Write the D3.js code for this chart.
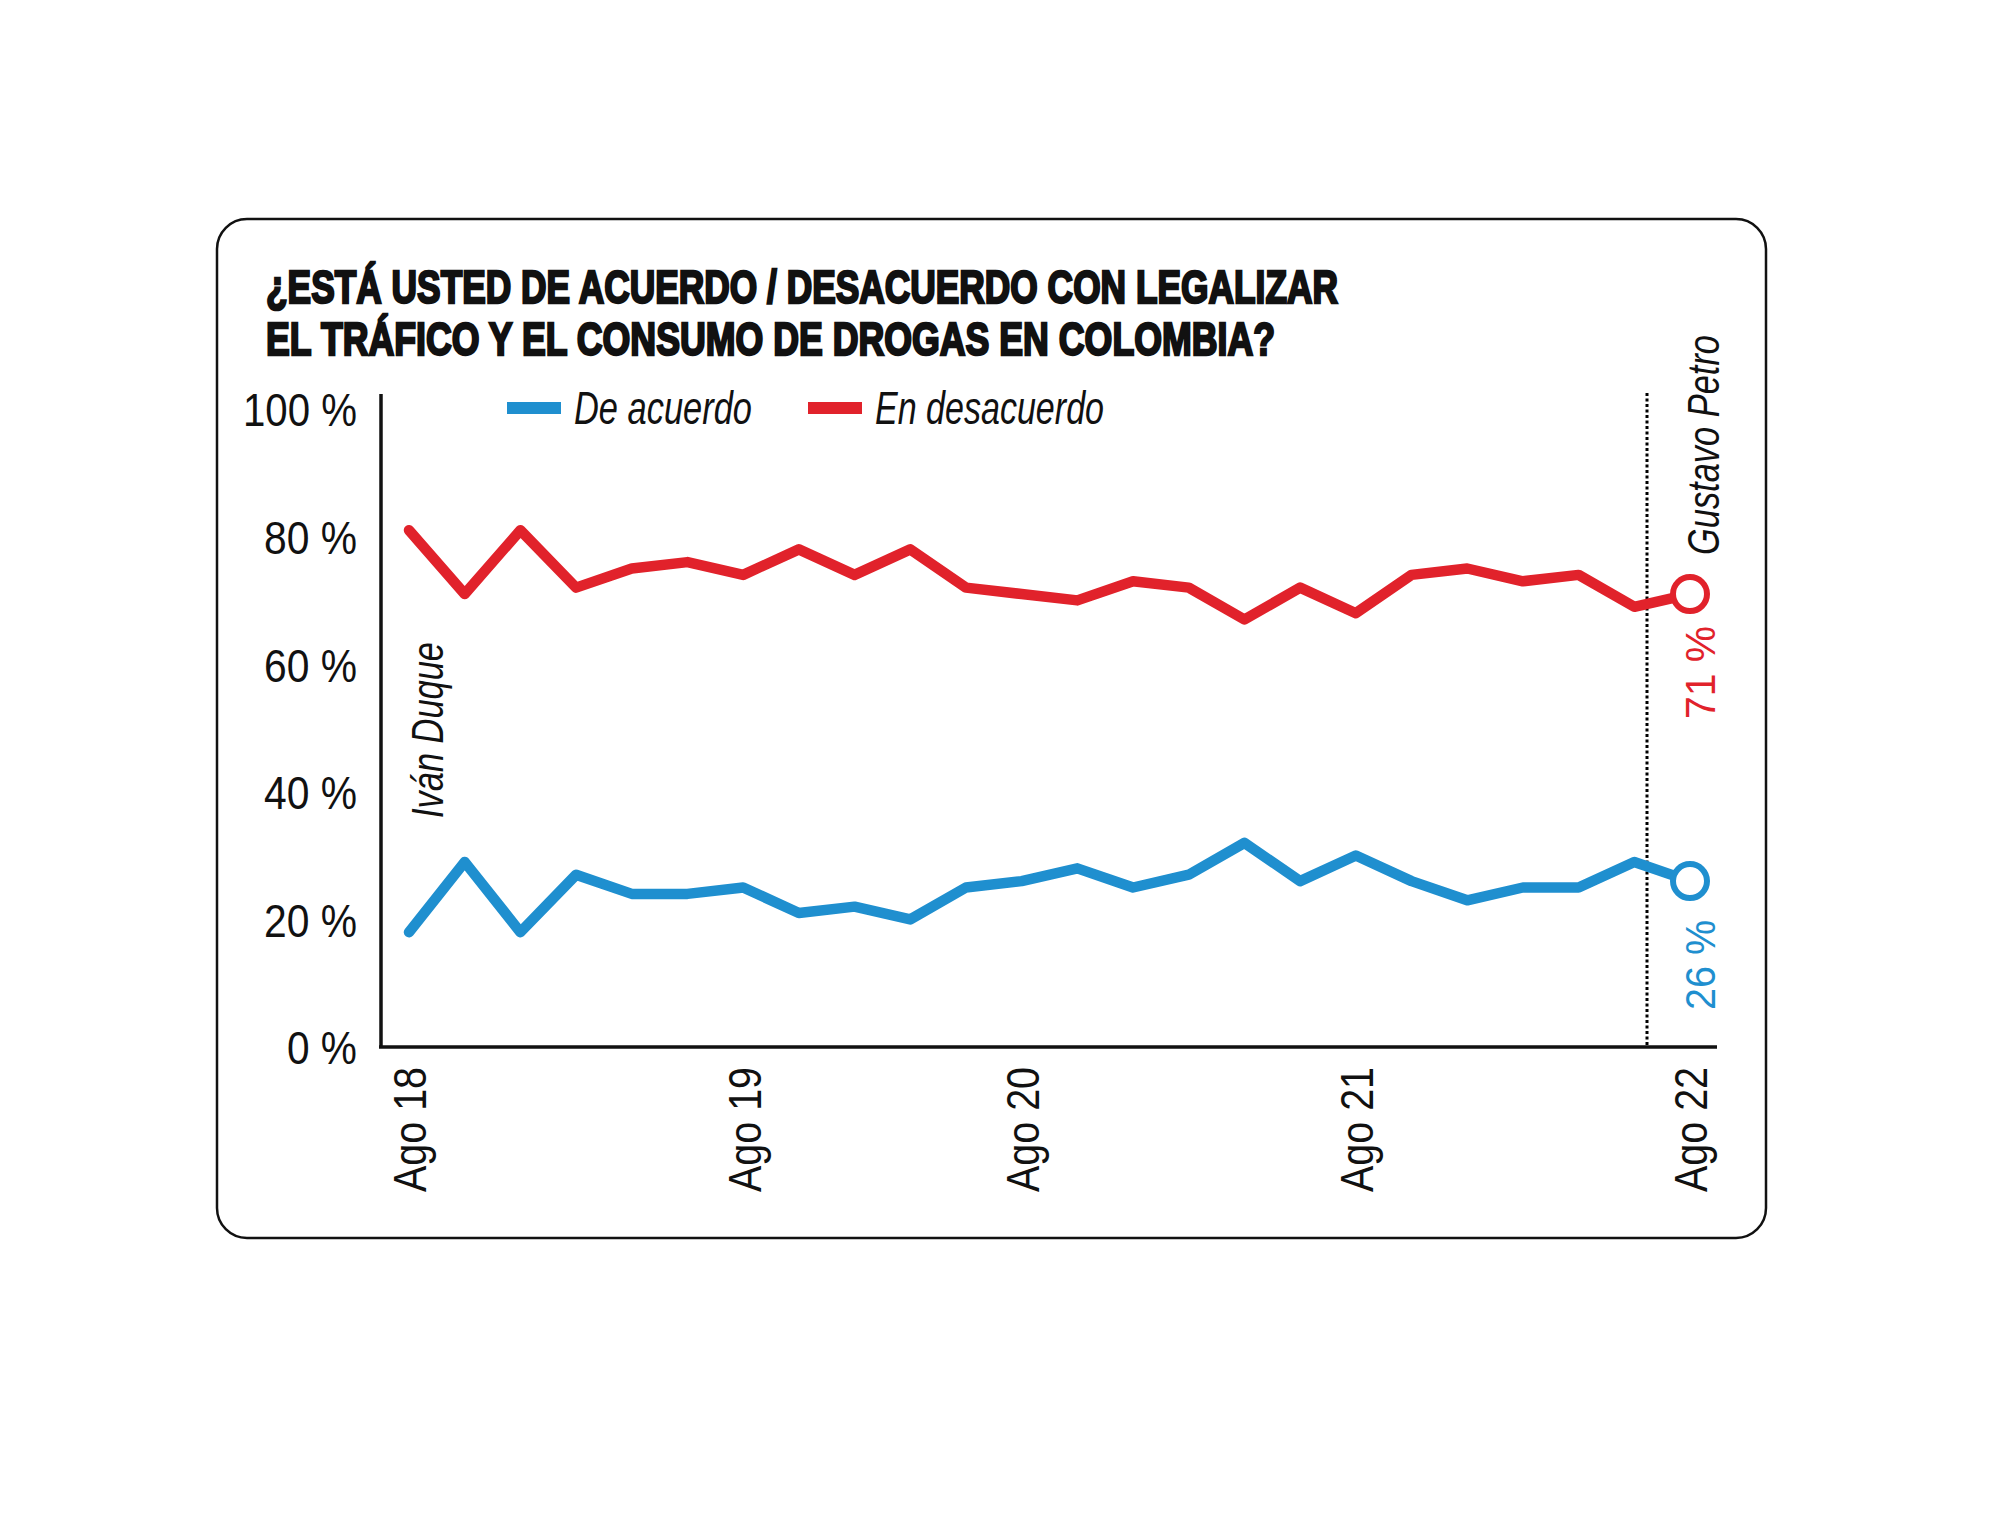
<!DOCTYPE html>
<html>
<head>
<meta charset="utf-8">
<script src="https://cdn.jsdelivr.net/npm/d3@7"></script>
<style>
  body { margin: 0; background: #fff; }
  svg { display: block; }
  text { font-family: "Liberation Sans", Arial, sans-serif; }
  .narrow { font-family: "Liberation Sans Narrow", "Liberation Sans", Arial, sans-serif; }
</style>
</head>
<body>
<svg id="canvas" width="2000" height="1515"></svg>
<script>
// survey index 0..23 (bimonthly polls, Ago 18 -> Ago 22)
var tickIndex  = [0, 6, 11, 17, 23];
var tickLabels = ["Ago 18", "Ago 19", "Ago 20", "Ago 21", "Ago 22"];
var yTicks = [0, 20, 40, 60, 80, 100];

// % de acuerdo
var deAcuerdo = [18, 29, 18, 27, 24, 24, 25, 21, 22, 20, 25, 26,
                 28, 25, 27, 32, 26, 30, 26, 23, 25, 25, 29, 26];
// % en desacuerdo
var enDesacuerdo = [81, 71, 81, 72, 75, 76, 74, 78, 74, 78, 72, 71,
                    70, 73, 72, 67, 72, 68, 74, 75, 73, 74, 69, 71];

var titleLines = ["¿ESTÁ USTED DE ACUERDO / DESACUERDO CON LEGALIZAR",
                  "EL TRÁFICO Y EL CONSUMO DE DROGAS EN COLOMBIA?"];

var blue = "#1f8fcf",
    red  = "#e1222b";

var svg = d3.select("#canvas");

// rounded frame
svg.append("rect")
    .attr("x", 217).attr("y", 219)
    .attr("width", 1549).attr("height", 1019)
    .attr("rx", 30).attr("ry", 30)
    .attr("fill", "#fff")
    .attr("stroke", "#111")
    .attr("stroke-width", 2.5);

// title
var title = svg.append("g").attr("class", "narrow")
    .attr("font-weight", "bold").attr("font-size", 46).attr("fill", "#111")
    .attr("stroke", "#111").attr("stroke-width", 2.4);
title.selectAll("text").data(titleLines).enter().append("text")
    .attr("x", 266)
    .attr("y", function(d, i) { return 303 + i * 52; })
    .attr("textLength", function(d, i) { return i === 0 ? 1072 : 1009; })
    .attr("lengthAdjust", "spacingAndGlyphs")
    .text(function(d) { return d; });

var x = d3.scaleLinear().domain([0, 23]).range([409, 1690]);
var y = d3.scaleLinear().domain([0, 100]).range([1047, 409]);

// y axis labels
var yAxis = d3.axisLeft(y)
    .tickValues(yTicks)
    .tickSize(0)
    .tickPadding(0)
    .tickFormat(function(d) { return d + " %"; });

var gy = svg.append("g")
    .attr("transform", "translate(357,0)")
    .call(yAxis);
gy.select(".domain").remove();
gy.selectAll("text")
    .attr("font-family", "'Liberation Sans Narrow', 'Liberation Sans', Arial, sans-serif")
    .attr("font-size", 47)
    .attr("fill", "#111")
    .attr("dy", "0.36em")
    .attr("textLength", function(d) { return d === 100 ? 114 : (d === 0 ? 70 : 93); })
    .attr("lengthAdjust", "spacingAndGlyphs");

// axis lines
svg.append("line")
    .attr("x1", 381).attr("x2", 381)
    .attr("y1", 394).attr("y2", y(0))
    .attr("stroke", "#111").attr("stroke-width", 3.5);
svg.append("line")
    .attr("x1", 379).attr("x2", 1717)
    .attr("y1", y(0)).attr("y2", y(0))
    .attr("stroke", "#111").attr("stroke-width", 3.5);

// x axis labels (rotated)
var xAxis = d3.axisBottom(x)
    .tickValues(tickIndex)
    .tickSize(0)
    .tickFormat(function(d, i) { return tickLabels[i]; });
var gx = svg.append("g")
    .attr("transform", "translate(0," + y(0) + ")")
    .call(xAxis);
gx.select(".domain").remove();
gx.selectAll("text")
    .attr("font-family", "'Liberation Sans', Arial, sans-serif")
    .attr("font-size", 47)
    .attr("fill", "#111")
    .attr("text-anchor", "end")
    .attr("textLength", 125)
    .attr("lengthAdjust", "spacingAndGlyphs")
    .attr("transform", "translate(0,20) rotate(-90)")
    .attr("x", 0).attr("y", 0)
    .attr("dy", "0.36em");

// government change marker
svg.append("line")
    .attr("x1", 1647).attr("x2", 1647)
    .attr("y1", 393).attr("y2", y(0))
    .attr("stroke", "#000").attr("stroke-width", 3)
    .attr("stroke-dasharray", "3,2.5");

// legend
var legend = [
  { name: "De acuerdo", color: blue, x: 507, len: 178 },
  { name: "En desacuerdo", color: red, x: 808, len: 229 }
];
var lg = svg.selectAll(".lg").data(legend).enter().append("g")
    .attr("class", "lg")
    .attr("transform", function(d) { return "translate(" + d.x + ",408)"; });
lg.append("rect")
    .attr("x", 0).attr("y", -6).attr("width", 54).attr("height", 12)
    .attr("fill", function(d) { return d.color; });
lg.append("text")
    .attr("class", "narrow")
    .attr("x", 67).attr("y", 16)
    .attr("font-size", 46).attr("font-style", "italic").attr("fill", "#111")
    .attr("textLength", function(d) { return d.len; })
    .attr("lengthAdjust", "spacingAndGlyphs")
    .text(function(d) { return d.name; });

// lines
var line = d3.line()
    .x(function(d, i) { return x(i); })
    .y(function(d) { return y(d); });

var series = [
  { values: deAcuerdo, color: blue },
  { values: enDesacuerdo, color: red }
];

svg.selectAll(".serie").data(series).enter().append("path")
    .attr("class", "serie")
    .attr("d", function(d) { return line(d.values); })
    .attr("fill", "none")
    .attr("stroke", function(d) { return d.color; })
    .attr("stroke-width", 10.5)
    .attr("stroke-linejoin", "round")
    .attr("stroke-linecap", "round");

// last value circles
var last = deAcuerdo.length - 1;
svg.selectAll(".end").data(series).enter().append("circle")
    .attr("class", "end")
    .attr("cx", x(last))
    .attr("cy", function(d) { return y(d.values[last]); })
    .attr("r", 17)
    .attr("fill", "#fff")
    .attr("stroke", function(d) { return d.color; })
    .attr("stroke-width", 6);

// rotated labels
function vlabel(txt, cx, yStart, len, opts) {
  svg.append("text")
      .attr("class", opts.narrow ? "narrow" : null)
      .attr("transform", "translate(" + cx + "," + yStart + ") rotate(-90)")
      .attr("dy", "0.36em")
      .attr("font-size", opts.size)
      .attr("font-style", opts.italic ? "italic" : "normal")
      .attr("fill", opts.color)
      .attr("textLength", len)
      .attr("lengthAdjust", "spacingAndGlyphs")
      .text(txt);
}

vlabel("Iván Duque", 427, 818, 176, { narrow: true, italic: true, size: 44, color: "#111" });
vlabel("Gustavo Petro", 1703, 555, 220, { narrow: true, italic: true, size: 45, color: "#111" });
vlabel(enDesacuerdo[last] + " %", 1700, 719, 93, { size: 43, color: red });
vlabel(deAcuerdo[last] + " %", 1700, 1010, 90, { size: 43, color: blue });
</script>
</body>
</html>
